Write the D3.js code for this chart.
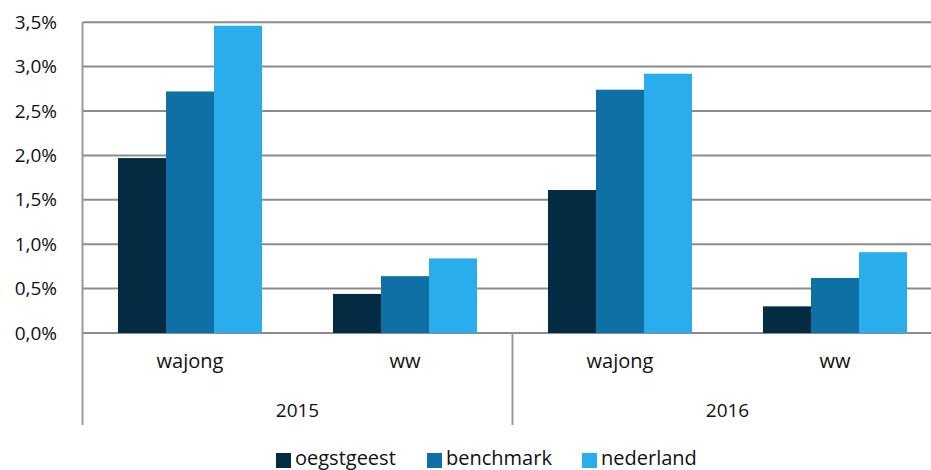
<!DOCTYPE html>
<html><head><meta charset="utf-8">
<script src="https://cdn.jsdelivr.net/npm/d3@7"></script>
<style>body{margin:0;background:#fff}svg{display:block}text{font-family:"Open Sans",sans-serif;fill:#111}</style>
</head><body><svg id="c" width="931" height="470"></svg>
<script>
const years = ["2015", "2016"];
const categories = ["wajong", "ww", "wajong", "ww"];
const seriesNames = ["oegstgeest", "benchmark", "nederland"];
const oegstgeest = [1.97, 0.44, 1.61, 0.30];
const benchmark = [2.72, 0.64, 2.74, 0.62];
const nederland = [3.46, 0.84, 2.92, 0.91];
const yTicks = [0, 0.5, 1, 1.5, 2, 2.5, 3, 3.5];
const colors = ["#032b41", "#0e70a5", "#2aaded"];

const series = [oegstgeest, benchmark, nederland];
const svg = d3.select("#c");
const mLeft = 82.5, mRight = 942.5, mTop = 22.2, mBottom = 333;
const x = d3.scaleBand().domain(d3.range(categories.length)).range([mLeft, mRight]);
const y = d3.scaleLinear().domain([0, 3.5]).range([mBottom, mTop]);
const barW = 48;
const fmt = v => v.toFixed(1).replace(".", ",") + "%";

// gridlines
svg.append("g").selectAll("line").data(yTicks).join("line")
  .attr("x1", mLeft).attr("x2", 931).attr("y1", d => y(d)).attr("y2", d => y(d))
  .attr("stroke", "#8c8c8c").attr("stroke-width", 2);

// y labels
svg.append("g").selectAll("text").data(yTicks).join("text")
  .attr("x", 57).attr("y", d => y(d)).attr("dy", "0.35em").attr("text-anchor", "end")
  .attr("font-size", 19).text(fmt);

// bars
series.forEach((vals, si) => {
  svg.append("g").selectAll("rect").data(vals).join("rect")
    .attr("x", (d, i) => x(i) + x.bandwidth() / 2 - 1.5 * barW + si * barW)
    .attr("width", barW)
    .attr("y", d => y(d)).attr("height", d => mBottom - y(d))
    .attr("fill", colors[si]);
});

// axes lines
svg.append("line").attr("x1", mLeft).attr("x2", mLeft).attr("y1", mTop).attr("y2", 425)
  .attr("stroke", "#999").attr("stroke-width", 2);
svg.append("line").attr("x1", x(2)).attr("x2", x(2)).attr("y1", mBottom).attr("y2", 425)
  .attr("stroke", "#999").attr("stroke-width", 2);

// category labels
svg.append("g").selectAll("text").data(categories).join("text")
  .attr("x", (d, i) => x(i) + x.bandwidth() / 2).attr("y", 368).attr("text-anchor", "middle")
  .attr("font-size", 20).text(d => d);
// year labels
svg.append("g").selectAll("text").data(years).join("text")
  .attr("x", (d, i) => (x(i * 2) + x(i * 2 + 1) + x.bandwidth()) / 2).attr("y", 417).attr("text-anchor", "middle")
  .attr("font-size", 19).text(d => d);

// legend
const legX = [276, 427, 582];
const lg = svg.append("g").selectAll("g").data(seriesNames).join("g")
  .attr("transform", (d, i) => `translate(${legX[i]},453)`);
lg.append("rect").attr("width", 15).attr("height", 15).attr("fill", (d, i) => colors[i]);
lg.append("text").attr("x", 19).attr("y", 12).attr("font-size", 20).text(d => d);
</script></body></html>
